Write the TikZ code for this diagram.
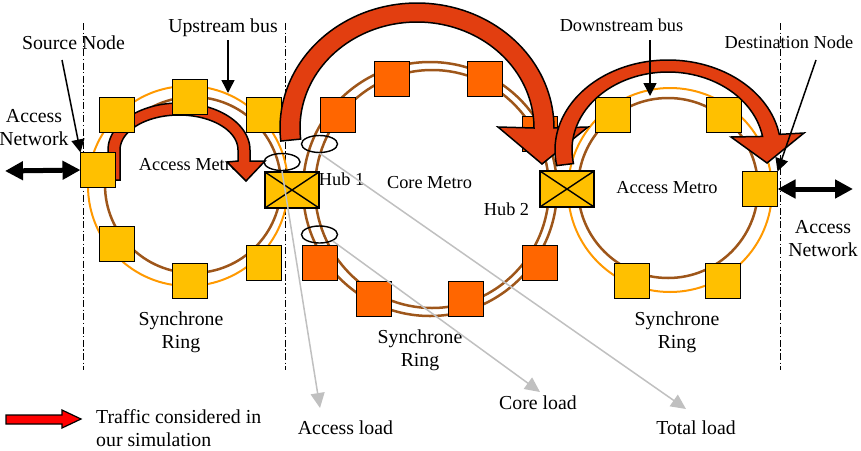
\documentclass[tikz,border=0pt]{standalone}
\usepackage{fontspec}
\setmainfont{Liberation Serif}
\usetikzlibrary{arrows.meta,shapes.geometric}
\definecolor{sqY}{RGB}{255,192,0}
\definecolor{sqO}{RGB}{255,102,0}
\definecolor{ringO}{RGB}{255,153,0}
\definecolor{ringB}{RGB}{158,86,26}
\definecolor{flowR}{RGB}{226,62,16}
\definecolor{loadG}{RGB}{192,192,192}
\definecolor{legR}{RGB}{255,0,0}
\begin{document}
\begin{tikzpicture}[x=1pt,y=-1pt,
  lbl/.style={inner sep=0pt, font=\fontsize{19.8}{23}\selectfont},
  lbls/.style={inner sep=0pt, font=\fontsize{18.3}{21}\selectfont},
  lbltwo/.style={inner sep=0pt, font=\fontsize{19.8}{23}\selectfont, align=center},
  sqA/.style={draw, line width=1.6pt, fill=sqY, minimum size=35pt, inner sep=0pt, outer sep=0pt},
  sqC/.style={sqA, fill=sqO},
  hubbox/.style={draw, line width=1.6pt, fill=sqY, minimum width=53.5pt, minimum height=35.5pt, inner sep=0pt, outer sep=0pt},
  hubx/.style={line width=1.4pt},
  sep/.style={line width=0.9pt, dash pattern=on 7pt off 2.5pt on 1.2pt off 2.5pt},
  ringo/.style={draw=ringO, line width=2pt},
  ringb/.style={draw=ringB, line width=2.5pt},
  flow/.style={draw=black, fill=flowR, line width=1.5pt, line join=miter},
  probe/.style={ellipse, draw, line width=1.4pt, minimum width=36pt, minimum height=17pt, inner sep=0pt},
  loadarr/.style={draw=loadG, line width=1.5pt, -{Triangle[length=15pt,width=14pt]}},
  callout/.style={draw=black, line width=1.5pt, -{Triangle[length=13pt,width=13pt]}},
  netarr/.style={draw=black, line width=5pt, {Triangle[length=18pt,width=18pt]}-{Triangle[length=18pt,width=18pt]}},
  legarr/.style={draw=black, fill=legR, line width=1.2pt, line join=miter}
]
\useasboundingbox (0,0) rectangle (861,450);

% separators
\coordinate (d1a) at (83,23);  \coordinate (d1b) at (83,370);
\coordinate (d2a) at (285,23); \coordinate (d2b) at (285,370);
\coordinate (d3a) at (780,23); \coordinate (d3b) at (780,370);
\draw[sep] (d1a) -- (d1b);
\draw[sep] (d2a) -- (d2b);
\draw[sep] (d3a) -- (d3b);

% rings
\draw[ringo] (188,186) circle[radius=100];
\draw[ringb] (193,185) circle[radius=88];
\draw[ringb] (430,189) ellipse[x radius=127, y radius=127];
\draw[ringb] (432,189) ellipse[x radius=117, y radius=119];
\draw[ringo] (670,190) circle[radius=102];
\draw[ringb] (668,188) circle[radius=90];

% labels
\node[lbl, anchor=base] (tSrc) at (73.5,49) {Source Node};
\node[lbl, anchor=base] (tUp) at (223,32) {Upstream bus};
\node[lbls, anchor=base] (tDown) at (621.5,31) {Downstream bus};
\node[lbls, anchor=base] (tDst) at (789,48.3) {Destination Node};
\node[lbltwo] (tANl) at (34,128) {Access\\Network};
\node[lbltwo] (tANr) at (823,238.3) {Access\\Network};
\node[lbls, anchor=base] (tAMl) at (189.5,170.7) {Access Metro};
\node[lbls, anchor=base] (tAMr) at (667,193.3) {Access Metro};
\node[lbls, anchor=base] (tCM) at (429.5,188.3) {Core Metro};
\node[lbls, anchor=base] (tH1) at (341.6,185) {Hub 1};
\node[lbls, anchor=base] (tH2) at (506.5,215) {Hub 2};
\node[lbltwo] (tSRl) at (181,332) {Synchrone\\Ring};
\node[lbltwo] (tSRc) at (420,350.4) {Synchrone\\Ring};
\node[lbltwo] (tSRr) at (677,332) {Synchrone\\Ring};
\node[lbltwo, align=left, anchor=west] (tLeg) at (96,427.7) {Traffic considered in\\our simulation};
\node[lbl, anchor=base] (tAL) at (345.5,434) {Access load};
\node[lbl, anchor=base] (tCL) at (538,409.3) {Core load};
\node[lbl, anchor=base] (tTL) at (696,434.3) {Total load};

% traffic arrow inside left access ring
\filldraw[flow] (108,180) -- (108,150)
  -- plot[domain=180:360, samples=60, variable=\t] ({179+71*cos(\t)},{150+47*sin(\t)})
  -- (250,161) -- (265,161) -- (246,181) -- (227,162) -- (238,161) -- (238,150)
  -- plot[domain=360:180, samples=60, variable=\t] ({179+59*cos(\t)},{150+35*sin(\t)})
  -- (120,180) -- cycle;

% left access ring nodes
\node[sqA] (L1) at (117,115) {};
\node[sqA] (L2) at (190,97) {};
\node[sqA] (L3) at (264,115) {};
\node[sqA] (Lsrc) at (98,170) {};
\node[sqA] (L5) at (117,244) {};
\node[sqA] (L6) at (190,281) {};
\node[sqA] (L7) at (264,263) {};
% core ring nodes
\node[sqC] (C1) at (338,115) {};
\node[sqC] (C2) at (392,79) {};
\node[sqC] (C3) at (485,79) {};
\node[sqC] (C4) at (540,134) {};
\node[sqC] (C5) at (320,263) {};
\node[sqC] (C6) at (374,299) {};
\node[sqC] (C7) at (466,299) {};
\node[sqC] (C8) at (540,263) {};
% right access ring nodes
\node[sqA] (R1) at (613,115) {};
\node[sqA] (R2) at (724,115) {};
\node[sqA] (Rdst) at (760,189) {};
\node[sqA] (R4) at (632,281) {};
\node[sqA] (R5) at (723,281) {};
% hubs
\node[hubbox] (H1) at (292,190) {};
\draw[hubx] (H1.north west) -- (H1.south east) (H1.north east) -- (H1.south west);
\node[hubbox] (H2) at (567,189) {};
\draw[hubx] (H2.north west) -- (H2.south east) (H2.north east) -- (H2.south west);

% traffic arrow over core ring
\filldraw[flow]
  plot[domain=174:360, samples=80, variable=\t] ({417+137*cos(\t)},{128+125*sin(\t)})
  -- (588,127) -- (542,164) -- (498,127) -- (534,128)
  -- plot[domain=360:174, samples=80, variable=\t] ({417+117*cos(\t)},{128+106*sin(\t)})
  -- cycle;
% traffic arrow over right access ring
\filldraw[flow]
  plot[domain=170:350, samples=80, variable=\t] ({668+113*cos(\t)},{150+90*sin(\t)})
  -- (804,133) -- (767,163) -- (731,137)
  -- plot[domain=350:170, samples=80, variable=\t] ({668+96*cos(\t)},{150+78*sin(\t)})
  -- cycle;

% load probes
\node[probe] (e1) at (282,162) {};
\node[probe] (e2) at (319.5,144) {};
\node[probe] (e3) at (319.5,234.5) {};
\coordinate (accTip) at (320,408);
\coordinate (coreTip) at (540,392);
\coordinate (totTip) at (686,409);
\draw[loadarr] (e1.south) -- (accTip);
\draw[loadarr] (e3.south east) -- (coreTip);
\draw[loadarr] (e2.south) -- (totTip);

% callouts
\coordinate (srcA) at (62,60);
\coordinate (upA) at (228,40);  \coordinate (upB) at (228,93);
\coordinate (dnA) at (650,40);  \coordinate (dnB) at (650,96);
\coordinate (dstA) at (816,60);
\draw[callout] (srcA) -- (Lsrc.north west);
\draw[callout] (upA) -- (upB);
\draw[callout] (dnA) -- (dnB);
\draw[callout] (dstA) -- (Rdst.north east);

% access network links
\coordinate (anL) at (5,171);
\coordinate (anR) at (853,189);
\draw[netarr] (anL) -- (Lsrc.west);
\draw[netarr] (Rdst.east) -- (anR);

% legend arrow
\filldraw[legarr] (6,415) -- (62,415) -- (62,410) -- (81,419) -- (62,428) -- (62,424) -- (6,424) -- cycle;
\end{tikzpicture}
\end{document}
